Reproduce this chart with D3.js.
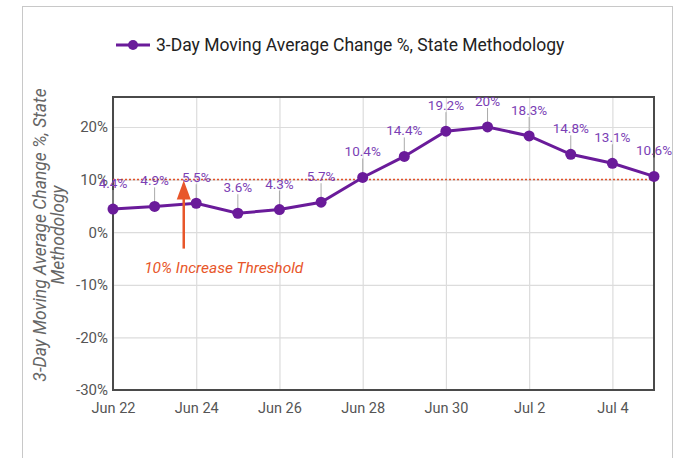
<!DOCTYPE html>
<html>
<head>
<meta charset="utf-8">
<script src="https://cdn.jsdelivr.net/npm/d3@7"></script>
<style>
  body { margin: 0; background: #fff; }
  svg { font-family: Roboto, "Noto Sans", sans-serif; }
</style>
</head>
<body>
<svg></svg>
<script>
// 3-day moving average change, one point per day

var days = ["2020-06-22","2020-06-23","2020-06-24","2020-06-25","2020-06-26","2020-06-27","2020-06-28",
            "2020-06-29","2020-06-30","2020-07-01","2020-07-02","2020-07-03","2020-07-04","2020-07-05"];
var changes = [4.4, 4.9, 5.5, 3.6, 4.3, 5.7, 10.4, 14.4, 19.2, 20, 18.3, 14.8, 13.1, 10.6];
var yTicks = [-30, -20, -10, 0, 10, 20];
var xTickDays = ["2020-06-22","2020-06-24","2020-06-26","2020-06-28","2020-06-30","2020-07-02","2020-07-04"];
var threshold = 10;

var svgWidth = 686, svgHeight = 458;
var margin = {left: 113, right: 32, top: 97, bottom: 68};
var w = svgWidth - margin.left - margin.right;
var h = svgHeight - margin.top - margin.bottom;

var parse = d3.timeParse("%Y-%m-%d");
var data = days.map(function(d, i) { return {date: parse(d), value: changes[i]}; });

var svg = d3.select("svg")
    .attr("width", svgWidth)
    .attr("height", svgHeight);

// outer card border
svg.append("rect")
    .attr("x", 22.5).attr("y", 6.5)
    .attr("width", 650).attr("height", 460)
    .attr("fill", "none")
    .attr("stroke", "#c8c8c8");

var x = d3.scaleTime()
    .domain(d3.extent(data, function(d) { return d.date; }))
    .range([0, w]);

var y = d3.scaleLinear()
    .domain([-30, 25.7])
    .range([h, 0]);

var g = svg.append("g")
    .attr("transform", "translate(" + margin.left + "," + margin.top + ")");

// grid
g.append("g")
    .call(d3.axisLeft(y).tickValues(yTicks).tickSize(-w).tickFormat(""))
    .call(function(s) {
        s.select(".domain").remove();
        s.selectAll("line").attr("stroke", "#dcdcdc").attr("stroke-width", 1.2);
    });

g.append("g")
    .call(d3.axisBottom(x).tickValues(xTickDays.map(parse)).tickSize(h).tickFormat(""))
    .call(function(s) {
        s.select(".domain").remove();
        s.selectAll("line").attr("stroke", "#dcdcdc").attr("stroke-width", 1.2);
    });

// axis labels
g.append("g")
    .call(d3.axisLeft(y).tickValues(yTicks).tickSize(0).tickPadding(5)
        .tickFormat(function(d) { return d + "%"; }))
    .call(function(s) {
        s.select(".domain").remove();
        s.selectAll("text").attr("fill", "#555").attr("font-size", 15)
            .attr("font-family", "Roboto, sans-serif");
    });

g.append("g")
    .attr("transform", "translate(0," + h + ")")
    .call(d3.axisBottom(x).tickValues(xTickDays.map(parse)).tickSize(0).tickPadding(13)
        .tickFormat(d3.timeFormat("%b %-d")))
    .call(function(s) {
        s.select(".domain").remove();
        s.selectAll("text").attr("fill", "#555").attr("font-size", 14.5)
            .attr("font-family", "Roboto, sans-serif");
    });

// plot frame
g.append("rect")
    .attr("width", w).attr("height", h)
    .attr("fill", "none")
    .attr("stroke", "#4a4a4a")
    .attr("stroke-width", 2);

// threshold line
g.append("line")
    .attr("x1", 0).attr("x2", w)
    .attr("y1", y(threshold)).attr("y2", y(threshold))
    .attr("stroke", "#e0522a")
    .attr("stroke-width", 1.5)
    .attr("stroke-dasharray", "2,2");

// leader lines for labels
g.selectAll(".leader")
    .data(data)
    .enter()
    .append("line")
    .attr("class", "leader")
    .attr("x1", function(d) { return x(d.date); })
    .attr("x2", function(d) { return x(d.date); })
    .attr("y1", function(d) { return y(d.value); })
    .attr("y2", function(d) { return y(d.value) - 19; })
    .attr("stroke", "#aaa")
    .attr("stroke-width", 1);

var line = d3.line()
    .x(function(d) { return x(d.date); })
    .y(function(d) { return y(d.value); });

g.append("path")
    .datum(data)
    .attr("d", line)
    .attr("fill", "none")
    .attr("stroke", "#6a1b9a")
    .attr("stroke-width", 3);

g.selectAll(".dot")
    .data(data)
    .enter()
    .append("circle")
    .attr("class", "dot")
    .attr("cx", function(d) { return x(d.date); })
    .attr("cy", function(d) { return y(d.value); })
    .attr("r", 5.5)
    .attr("fill", "#6a1b9a");

g.selectAll(".lbl")
    .data(data)
    .enter()
    .append("text")
    .attr("class", "lbl")
    .attr("x", function(d) { return x(d.date); })
    .attr("y", function(d) { return y(d.value) - 21; })
    .attr("text-anchor", "middle")
    .attr("font-size", 13.5)
    .attr("fill", "#7b3fb5")
    .text(function(d) { return d.value + "%"; });

// arrow to threshold
var ax = x(parse("2020-06-23")) + (x(parse("2020-06-24")) - x(parse("2020-06-23"))) * 0.7;
var ay = y(threshold);
g.append("line")
    .attr("x1", ax).attr("x2", ax)
    .attr("y1", ay + 69).attr("y2", ay + 16)
    .attr("stroke", "#e8562a")
    .attr("stroke-width", 2.5);
g.append("path")
    .attr("d", "M" + ax + "," + (ay + 1) + "L" + (ax - 7) + "," + (ay + 20) + "L" + (ax + 7) + "," + (ay + 20) + "Z")
    .attr("fill", "#e8562a");
g.append("text")
    .attr("x", ax + 40)
    .attr("y", ay + 93)
    .attr("text-anchor", "middle")
    .attr("font-size", 15.5)
    .attr("font-style", "italic")
    .attr("fill", "#e8562a")
    .text("10% Increase Threshold");

// y title
var yt = svg.append("text")
    .attr("transform", "translate(46," + (margin.top + 138) + ") rotate(-90)")
    .attr("text-anchor", "middle")
    .attr("font-size", 17.5)
    .attr("font-style", "italic")
    .attr("fill", "#666");
yt.append("tspan").attr("x", 0).attr("dy", 0).text("3-Day Moving Average Change %, State");
yt.append("tspan").attr("x", 0).attr("dy", 18).text("Methodology");

// legend
var lg = svg.append("g").attr("transform", "translate(116,45)");
lg.append("line").attr("x1", 0).attr("x2", 34).attr("y1", 0).attr("y2", 0)
    .attr("stroke", "#6a1b9a").attr("stroke-width", 3);
lg.append("circle").attr("cx", 17).attr("cy", 0).attr("r", 5).attr("fill", "#6a1b9a");
lg.append("text").attr("x", 40).attr("y", 6)
    .attr("font-size", 17.5).attr("fill", "#222")
    .text("3-Day Moving Average Change %, State Methodology");
</script>
</body>
</html>
